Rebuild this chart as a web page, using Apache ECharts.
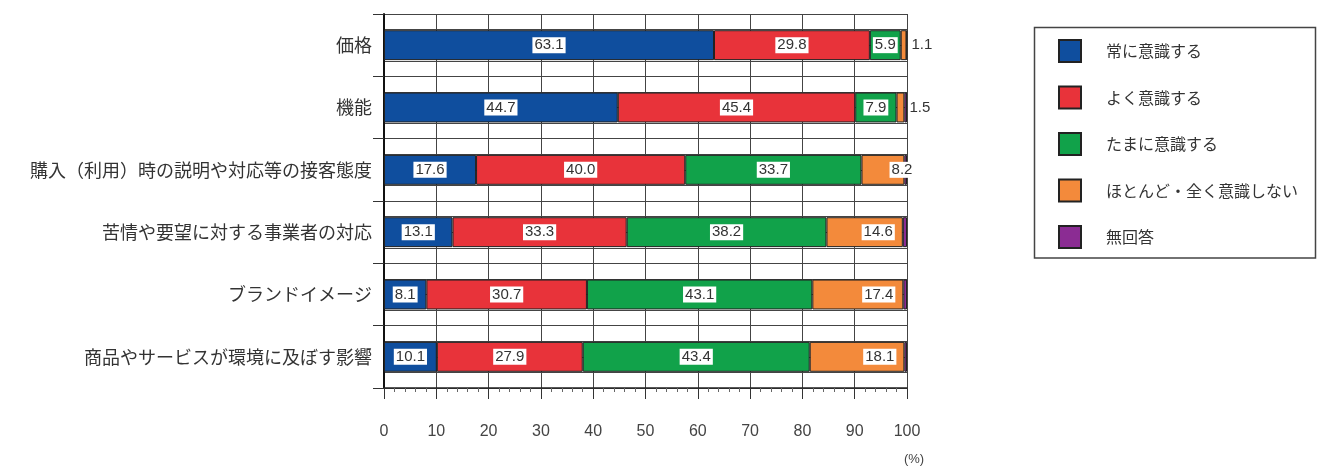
<!DOCTYPE html>
<html>
<head>
<meta charset="utf-8">
<script src="https://cdn.jsdelivr.net/npm/echarts@6/dist/echarts.min.js"></script>
<style>
html,body{margin:0;padding:0;background:#fff;}
#chart{width:1318px;height:466px;}
</style>
</head>
<body>
<div id="chart"></div>
<script>
// ---- data ----
const categories = ['価格', '機能', '購入（利用）時の説明や対応等の接客態度', '苦情や要望に対する事業者の対応', 'ブランドイメージ', '商品やサービスが環境に及ぼす影響'];
const seriesNames = ['常に意識する', 'よく意識する', 'たまに意識する', 'ほとんど・全く意識しない', '無回答'];
const always    = [63.1, 44.7, 17.6, 13.1, 8.1, 10.1];
const often     = [29.8, 45.4, 40.0, 33.3, 30.7, 27.9];
const sometimes = [5.9, 7.9, 33.7, 38.2, 43.1, 43.4];
const rarely    = [1.1, 1.5, 8.2, 14.6, 17.4, 18.1];
const noAnswer  = [0.1, 0.5, 0.5, 0.8, 0.7, 0.5];
const xTickLabels = [0, 10, 20, 30, 40, 50, 60, 70, 80, 90, 100];
const unitLabel = '(%)';

// ---- styles ----
const colors = ['#0f4e9e', '#e8333a', '#11a24a', '#f38a3b', '#8b2c93'];
const valueSets = [always, often, sometimes, rarely, noAnswer];

const baseLabel = {
  show: true,
  position: 'inside',
  formatter: p => Number(p.value).toFixed(1),
  backgroundColor: '#fff',
  padding: [1, 2, 0, 2],
  color: '#333',
  fontFamily: 'Liberation Sans',
  fontSize: 15
};

function buildData(idx) {
  const vals = valueSets[idx];
  return vals.map(v => {
    if (idx === 4) return { value: v, label: { show: false } };
    if (idx === 3) {
      if (v < 5) {
        return { value: v, label: { position: 'right', distance: 5, backgroundColor: 'transparent', padding: 0 } };
      } else if (v < 10) {
        return { value: v, label: { position: 'insideRight', distance: 2, offset: [12, 0] } };
      }
      return { value: v, label: { position: 'insideRight', distance: 8 } };
    }
    return { value: v };
  });
}

const series = seriesNames.map((name, i) => ({
  name: name,
  type: 'bar',
  stack: 'total',
  yAxisIndex: 0,
  barWidth: '48%',
  itemStyle: { color: colors[i], borderColor: '#222', borderWidth: 1 },
  label: baseLabel,
  emphasis: { disabled: true },
  data: buildData(i)
}));

const chart = echarts.init(document.getElementById('chart'), null, { renderer: 'canvas' });
chart.setOption({
  animation: false,
  grid: { left: 384, top: 14, right: 411, bottom: 78, containLabel: false },
  xAxis: {
    type: 'value',
    min: xTickLabels[0],
    max: xTickLabels[xTickLabels.length - 1],
    interval: xTickLabels[1] - xTickLabels[0],
    axisLine: { show: true, lineStyle: { color: '#222', width: 1.5 } },
    axisTick: { show: true, length: 11, lineStyle: { color: '#333' } },
    minorTick: { show: true, splitNumber: 5, length: 4, lineStyle: { color: '#666' } },
    splitLine: { show: true, lineStyle: { color: '#444', width: 1 } },
    axisLabel: { margin: 36, fontSize: 16, color: '#444', fontFamily: 'Liberation Sans' }
  },
  yAxis: [
    {
      type: 'category',
      data: categories,
      inverse: true,
      axisLine: { show: true, lineStyle: { color: '#111', width: 2 } },
      axisTick: { show: true, length: 11, lineStyle: { color: '#333' } },
      splitLine: { show: false },
      axisLabel: { margin: 12, fontSize: 18, color: '#333', fontFamily: 'Noto Sans CJK JP' }
    },
    {
      type: 'value',
      min: 0,
      max: categories.length * 4,
      interval: 1,
      position: 'right',
      axisLine: { show: false },
      axisTick: { show: false },
      axisLabel: { show: false },
      splitLine: { show: true, lineStyle: { color: '#444', width: 1 } }
    }
  ],
  legend: {
    data: seriesNames,
    orient: 'vertical',
    left: 1053,
    top: 34,
    itemWidth: 22,
    itemHeight: 22,
    itemGap: 22.5,
    icon: 'rect',
    selectedMode: false,
    textStyle: { fontSize: 16, color: '#333', fontFamily: 'Noto Sans CJK JP', padding: [0, 0, 0, 20] }
  },
  graphic: [
    {
      type: 'rect',
      shape: { x: 1034.5, y: 27.5, width: 281, height: 230.5 },
      style: { fill: 'none', stroke: '#444', lineWidth: 1.5 },
      silent: true
    },
    {
      type: 'text',
      x: 914,
      y: 459,
      style: { text: unitLabel, fontSize: 13, fill: '#444', fontFamily: 'Liberation Sans', align: 'center', verticalAlign: 'middle' },
      silent: true
    }
  ],
  series: series
});
</script>
</body>
</html>
